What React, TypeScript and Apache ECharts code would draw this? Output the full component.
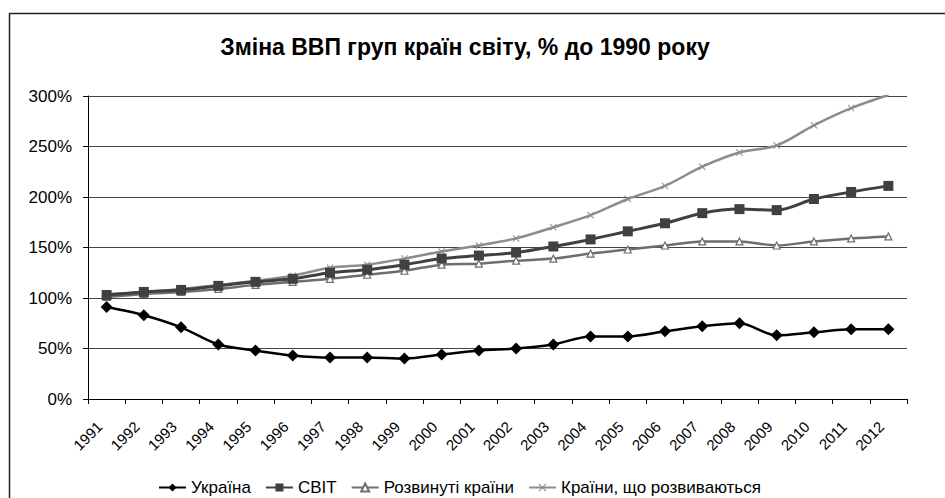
import React, { useEffect, useRef } from "react";
import * as echarts from "echarts";

const years = ["1991","1992","1993","1994","1995","1996","1997","1998","1999","2000","2001","2002","2003","2004","2005","2006","2007","2008","2009","2010","2011","2012"];
const ukraine = [91, 83, 71, 54, 48, 43, 41, 41, 40, 44, 48, 50, 54, 62, 62, 67, 72, 75, 63, 66, 69, 69];
const world = [103, 106, 108, 112, 116, 119, 125, 128, 133, 139, 142, 145, 151, 158, 166, 174, 184, 188, 187, 198, 205, 211];
const developed = [101, 104, 106, 109, 113, 116, 119, 123, 127, 133, 134, 137, 139, 144, 148, 152, 156, 156, 152, 156, 159, 161];
const developing = [104, 106, 109, 113, 117, 122, 130, 133, 139, 146, 152, 159, 170, 182, 198, 211, 230, 244, 251, 271, 288, 301];
const seriesNames = ["Україна", "СВІТ", "Розвинуті країни", "Країни, що розвиваються"];
const yTicks = [0, 50, 100, 150, 200, 250, 300];

const FONT = "Liberation Sans, Arial, sans-serif";
const X_PATH = "path://M0,1L1,0L5,4L9,0L10,1L6,5L10,9L9,10L5,6L1,10L0,9L4,5Z";

export default function App() {
  const ref = useRef<HTMLDivElement>(null);
  useEffect(() => {
    document.body.style.margin = "0";
    const chart = echarts.init(ref.current!, null, { renderer: "svg" });
    chart.setOption({
      animation: false,
      backgroundColor: "#fff",
      title: {
        text: "Зміна ВВП груп країн світу, % до 1990 року",
        left: 460,
        textAlign: "center",
        top: 30,
        textStyle: { fontFamily: FONT, fontSize: 23, fontWeight: "bold", color: "#000" },
      },
      graphic: [
        {
          type: "rect",
          shape: { x: 9.5, y: 13.5, width: 960, height: 500 },
          style: { fill: "none", stroke: "#222", lineWidth: 1.5 },
          silent: true,
        },
      ],
      grid: { left: 88, right: 38, top: 96, bottom: 99, containLabel: false },
      legend: {
        top: 474,
        left: 153,
        itemWidth: 27,
        itemHeight: 10,
        itemGap: 14,
        textStyle: { fontFamily: FONT, fontSize: 17, color: "#000" },
        data: seriesNames,
      },
      xAxis: {
        type: "category",
        data: years,
        boundaryGap: true,
        axisLine: { lineStyle: { color: "#000", width: 1 } },
        axisTick: { show: true, length: 5, inside: false, lineStyle: { color: "#000" } },
        axisLabel: {
          rotate: 45,
          fontFamily: FONT,
          fontSize: 15,
          color: "#000",
          margin: 18,
          padding: [0, 10, 0, 0],
          interval: 0,
        },
        splitLine: { show: false },
      },
      yAxis: {
        type: "value",
        min: yTicks[0],
        max: yTicks[yTicks.length - 1],
        interval: 50,
        axisLine: { show: true, lineStyle: { color: "#000", width: 1 } },
        axisTick: { show: true, length: 5, lineStyle: { color: "#000" } },
        axisLabel: { formatter: "{value}%", fontFamily: FONT, fontSize: 17, color: "#000", margin: 16 },
        splitLine: { show: true, lineStyle: { color: "#444", width: 1 } },
      },
      series: [
        {
          name: seriesNames[0],
          type: "line",
          data: ukraine,
          smooth: 0.3,
          symbol: "diamond",
          symbolSize: 12,
          z: 5,
          lineStyle: { color: "#000", width: 2.5 },
          itemStyle: { color: "#000" },
        },
        {
          name: seriesNames[1],
          type: "line",
          data: world,
          smooth: 0.3,
          symbol: "rect",
          symbolSize: 10,
          z: 4,
          lineStyle: { color: "#404040", width: 3 },
          itemStyle: { color: "#404040" },
        },
        {
          name: seriesNames[2],
          type: "line",
          data: developed,
          smooth: 0.3,
          symbol: "triangle",
          symbolSize: 7,
          z: 3,
          lineStyle: { color: "#6e6e6e", width: 2.5 },
          itemStyle: { color: "#fff", borderColor: "#6e6e6e", borderWidth: 1.2 },
        },
        {
          name: seriesNames[3],
          type: "line",
          data: developing,
          smooth: 0.3,
          symbol: X_PATH,
          symbolSize: 7,
          z: 2,
          lineStyle: { color: "#8c8c8c", width: 2.5 },
          itemStyle: { color: "#8c8c8c" },
        },
      ],
    });
    return () => chart.dispose();
  }, []);
  return <div ref={ref} style={{ width: 945, height: 498 }} />;
}
